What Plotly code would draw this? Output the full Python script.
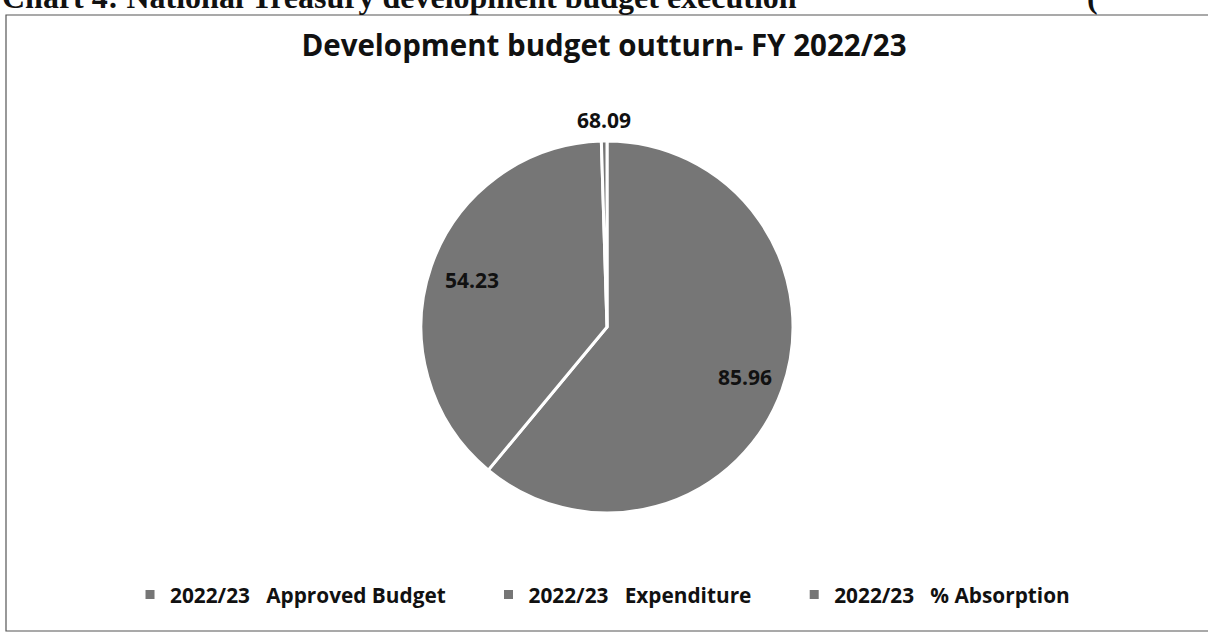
import numpy as np
import plotly.graph_objects as go

categories = ["2022/23\u00a0\u00a0 Approved Budget", "2022/23\u00a0\u00a0 Expenditure", "2022/23\u00a0\u00a0 % Absorption"]
values = [85.96, 54.23, 0.6809]
label_text = ["85.96", "54.23", "68.09"]
title_text = "Development budget outturn- FY 2022/23"
header_text = "Chart 4: National Treasury development budget execution"

W, H = 1208, 637
gray = "#767676"
pad = "\u00a0" * 7

# pie geometry (pixels)
CX, CY, R = 607, 327, 186
dom_x = [(CX - R) / W, (CX + R) / W]
dom_y = [1 - (CY + R) / H, 1 - (CY - R) / H]

fig = go.Figure(go.Pie(
    labels=[c + pad for c in categories],
    values=values,
    textinfo="none",
    sort=False,
    direction="clockwise",
    rotation=0,
    marker=dict(colors=[gray, gray, gray], line=dict(color="white", width=3)),
    domain=dict(x=dom_x, y=dom_y),
    showlegend=True,
    hoverinfo="skip",
))

# data labels placed along each slice bisector (Excel "best fit" style)
vals = np.array(values, dtype=float)
ends = np.cumsum(vals) / vals.sum() * 2 * np.pi
starts = ends - vals / vals.sum() * 2 * np.pi
mids = (starts + ends) / 2
radii = [0.79 * R, 0.77 * R, R + 21]
label_ann = []
for txt, a, rr in zip(label_text, mids, radii):
    px = CX + rr * np.sin(a)
    py = CY - rr * np.cos(a)
    label_ann.append(dict(text=txt, xref="paper", yref="paper", x=px / W, y=1 - py / H,
                          xanchor="center", yanchor="middle", showarrow=False,
                          font=dict(family="Open Sans", size=21, color="#111111", weight="bold")))

fig.update_layout(
    width=W, height=H,
    margin=dict(l=0, r=0, t=0, b=0, autoexpand=False),
    paper_bgcolor="white",
    plot_bgcolor="white",
    title=dict(text=title_text, x=0.5, xanchor="center", y=1 - 46 / H, yanchor="middle",
               font=dict(family="Open Sans", size=29.5, color="#111111", weight="bold")),
    legend=dict(orientation="h", x=0.5145, xanchor="center", y=1 - 595 / H, yanchor="middle",
                font=dict(family="Open Sans", size=20.8, color="#111111", weight="bold"),
                itemwidth=30, bgcolor="rgba(0,0,0,0)"),
    shapes=[dict(type="rect", xref="paper", yref="paper",
                 x0=6 / W, x1=1.02, y0=1 - 631 / H, y1=1 - 15 / H,
                 line=dict(color="#555555", width=1.2), fillcolor="rgba(0,0,0,0)")],
    annotations=label_ann + [
        dict(text=header_text, xref="paper", yref="paper", x=0.0, xanchor="left",
             y=1 - 17 / H, yanchor="bottom", showarrow=False,
             font=dict(family="Liberation Serif", size=32, color="#111111", weight="bold")),
        dict(text="(", xref="paper", yref="paper", x=1085 / W, xanchor="left",
             y=1 - 17 / H, yanchor="bottom", showarrow=False,
             font=dict(family="Liberation Serif", size=32, color="#111111", weight="bold")),
    ],
)

fig.write_html("out.html", config={"displayModeBar": False},
               post_script="document.body.style.margin='0px';")
